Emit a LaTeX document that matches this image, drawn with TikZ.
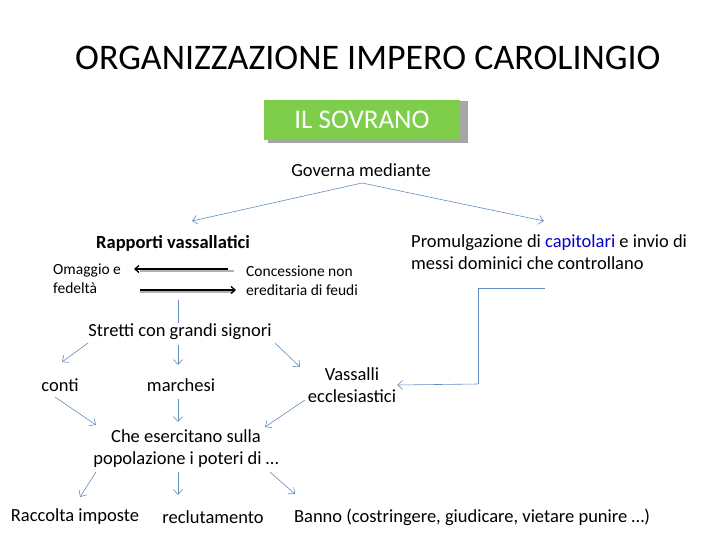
\documentclass[tikz,border=0pt]{standalone}
\usepackage{fontspec}
\setmainfont{Carlito}
\usetikzlibrary{arrows.meta}
\definecolor{lb}{RGB}{100,140,190}
\begin{document}
\begin{tikzpicture}[x=1pt,y=-1pt,
  t/.style={font=\fontsize{18.5}{22}\selectfont,align=center,inner sep=1pt},
  s/.style={font=\fontsize{15.5}{19}\selectfont,align=left,inner sep=1pt},
  ar/.style={draw=lb,line width=0.6pt,-{Straight Barb[length=5pt,width=9pt]}},
  ln/.style={draw=lb,line width=0.6pt},
  bk/.style={line width=1.3pt,-{Straight Barb[length=4pt,width=7pt]}}]
\useasboundingbox (0,0) rectangle (728,546);
\node[font=\fontsize{36}{40}\selectfont,anchor=west,inner sep=0pt] (title) at (75,58) {ORGANIZZAZIONE IMPERO CAROLINGIO};
\fill[gray!70] (268,101) rectangle (468,143);
\node[fill=green!45!olive!70!white,minimum width=196pt,minimum height=40pt,text=white,font=\fontsize{27}{30}\selectfont,inner sep=0pt] (sov) at (362,120) {IL SOVRANO};
\node[t] (gov) at (361,170) {Governa mediante};
\node[t,font=\bfseries\fontsize{18.5}{22}\selectfont] (rap) at (173,243) {Rapporti vassallatici};
\node[t,align=left,anchor=north west] (pro) at (410,233) {Promulgazione di {\color{blue!80!black}capitolari} e invio di\\messi dominici che controllano};
\node[s,anchor=west] (om) at (52,279) {Omaggio e\\fedeltà};
\node[s,anchor=west] (con) at (245,281) {Concessione non\\ereditaria di feudi};
\node[t] (str) at (180,332) {Stretti con grandi signori};
\node[t] (conti) at (60,385) {conti};
\node[t] (mar) at (181,385) {marchesi};
\node[t] (vas) at (352,385) {Vassalli\\ecclesiastici};
\node[t] (che) at (186,449) {Che esercitano sulla\\popolazione i poteri di …};
\node[t] (rac) at (75,517) {Raccolta imposte};
\node[t] (rec) at (213,517) {reclutamento};
\node[t] (ban) at (472,517) {Banno (costringere, giudicare, vietare punire …)};
\coordinate (g0) at (362,183);
\draw[ar] (g0) -- (192,221);
\draw[ar] (g0) -- (544,221);
\draw[gray!60,line width=1.3pt] (140,271) -- (234,271);
\draw[bk] (228,269) -- (134,269);
\draw[gray!60,line width=1.3pt] (140,292) -- (234,292);
\draw[bk] (140,290) -- (236,290);
\draw[ln] (178,300) -- (str.north -| 178,0);
\coordinate (r1) at (545,288);
\coordinate (r2) at (478,288);
\coordinate (r3) at (478,384);
\draw[ln] (r1) -- (r2) -- (r3);
\draw[ar] (r3) -- (vas.east);
\draw[ar] (88,343) -- (62,362);
\draw[ar] (178,345) -- (178,365);
\draw[ar] (275,343) -- (300,367);
\draw[ar] (55,397) -- (96,425);
\draw[ar] (178,399) -- (178,422);
\draw[ar] (305,400) -- (265,427);
\draw[ar] (96,472) -- (80,497);
\draw[ar] (178,472) -- (178,495);
\draw[ar] (270,472) -- (295,494);
\end{tikzpicture}
\end{document}
